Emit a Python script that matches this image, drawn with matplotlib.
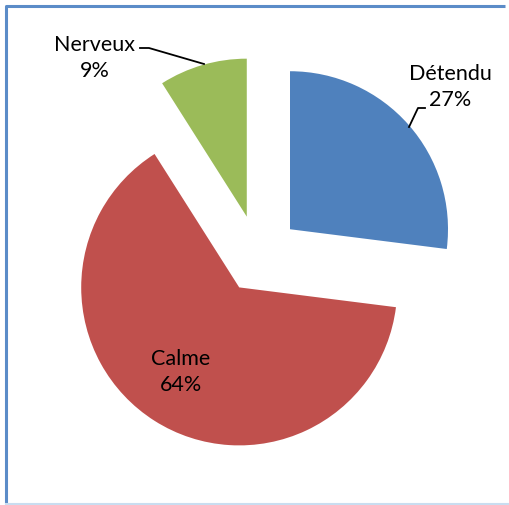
import matplotlib.pyplot as plt

# Humeur des participants
labels = ['Détendu', 'Calme', 'Nerveux']
values = [27, 64, 9]
colors = ['#4F81BD', '#C0504D', '#9BBB59']

W, H = 510, 505
fig = plt.figure(figsize=(W / 100, H / 100), dpi=100)
ax = fig.add_axes([0, 0, 1, 1])
ax.set_xlim(0, W)
ax.set_ylim(0, H)
ax.axis('off')


def py(y):
    # pixel row (top = 0) -> data y
    return H - y


ax.pie(values, colors=colors, startangle=90, counterclock=False,
       radius=158, center=(258.5, py(257)), explode=[42, 36, 42],
       wedgeprops=dict(linewidth=0))
ax.set_xlim(0, W)
ax.set_ylim(0, H)
ax.set_aspect('equal')

font = dict(family='Lato', fontsize=15.5, color='black', ha='center', va='center',
            linespacing=1.35)

# data labels
ax.text(450, py(87), f'{labels[0]}\n{values[0]}%', **font)
ax.text(181, py(372), f'{labels[1]}\n{values[1]}%', **font)
ax.text(95, py(58), f'{labels[2]}\n{values[2]}%', **font)

# leader lines
ax.plot([425, 418, 409], [py(108), py(108), py(127)], color='black', lw=1.3)
ax.plot([140, 149, 204], [py(48), py(48), py(64)], color='black', lw=1.3)

# chart frame
ax.plot([6, 6, 505], [py(503), py(6), py(6)], color='#5B8CC8', lw=2.2,
        solid_capstyle='butt', clip_on=False)
ax.plot([6, 510], [py(503.5), py(503.5)], color='#C9DDF0', lw=1.5, clip_on=False)

fig.savefig('out.png', dpi=100)
